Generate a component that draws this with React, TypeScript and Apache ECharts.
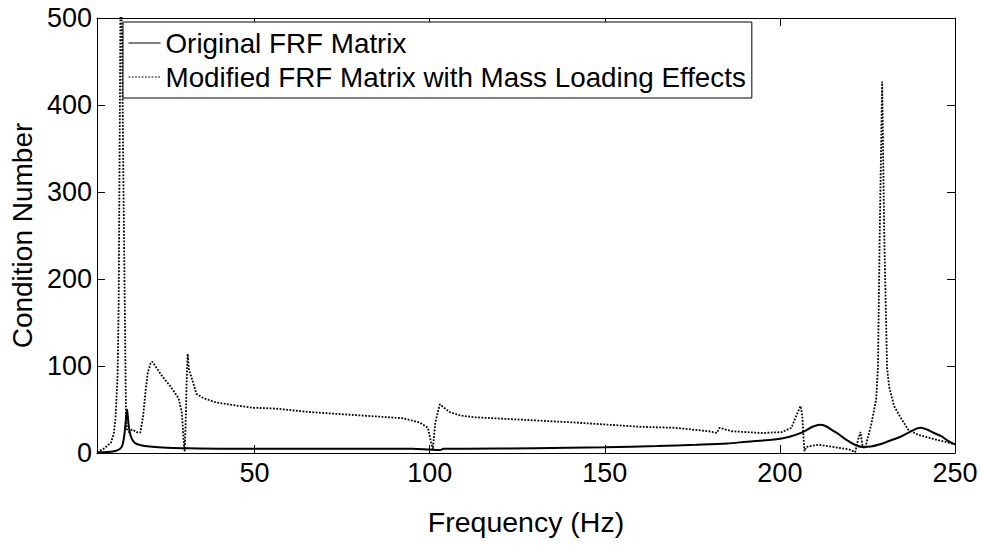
import React, { useEffect, useRef } from "react";
import * as echarts from "echarts";

// Original FRF matrix (solid)
const origFreq = [5, 7, 9, 10.5, 11.5, 12.2, 12.8, 13.3, 13.6, 13.9, 14.3, 15, 16, 17.5, 20, 25, 30, 40, 60, 80, 95, 100, 103, 104, 110, 130, 150, 165, 176, 185, 190.6, 197, 200.9, 203, 205.3, 207.5, 209.5, 211.5, 213, 215, 217, 219, 221.4, 223.5, 226, 228.6, 231, 234.6, 237, 239, 240.3, 242, 244, 246.2, 248, 250];
const origCond = [1, 1, 1.5, 2.5, 4.5, 8, 20, 40, 50, 38, 25, 16, 11, 9, 7.5, 6, 5.5, 5, 5, 5, 5, 4, 3.5, 5, 5, 5.5, 6.5, 8, 9.5, 11, 13, 15, 17, 19, 22, 26, 30.5, 32.5, 31, 26, 21, 15, 9.5, 7, 7.5, 10, 13.5, 19, 24, 28, 29, 27, 23, 19, 14, 10];

// Modified FRF matrix with mass loading effects (dotted)
const modFreq = [5, 7, 9, 9.8, 10.3, 10.9, 11.2, 11.45, 11.7, 11.95, 12.2, 12.5, 12.7, 13.0, 13.3, 13.6, 14.2, 15.0, 15.5, 16.4, 17.4, 18.2, 18.9, 19.5, 20.3, 20.8, 23.3, 26.1, 28.3, 29.2, 29.6, 29.85, 30.05, 30.3, 30.6, 30.9, 31.3, 32.0, 33.4, 35.4, 39.1, 44, 49.7, 56.2, 65.9, 75.3, 84.7, 92.3, 97.2, 99.5, 100.4, 100.9, 101.6, 102.9, 105.7, 108.8, 113.1, 122.8, 132.2, 141.6, 151.2, 160.6, 170, 179.7, 182, 182.8, 186.2, 194.8, 200.5, 203.3, 204.7, 205.9, 206.4, 206.7, 207.0, 207.5, 211, 215, 219.8, 221.5, 222.3, 223, 223.6, 224.3, 226.1, 227.5, 228, 228.5, 229.2, 229.8, 230.6, 231.2, 232.6, 234.6, 236.6, 239.4, 243, 246, 250];
const modCond = [1, 5, 12, 22, 40, 90, 170, 330, 500, 520, 470, 330, 260, 150, 40, 27, 24, 27, 26, 24, 23.5, 43, 72, 92, 103, 105, 90, 76, 63, 47, 25, 8, 2, 30, 80, 114, 95, 87, 68, 63, 58, 55, 52, 51, 47, 44.5, 42, 40, 35, 29, 12, 4, 35, 56, 47, 43, 41, 39, 37, 35, 32.5, 30, 29, 25, 23, 29, 25, 23, 24, 29, 43, 54, 43, 22, 2, 7, 9.5, 7, 4, 1, 15, 24, 8, 5, 33, 62, 98, 250, 427, 250, 98, 76, 54, 40, 27, 21, 17, 14, 10];

const xTicks = [50, 100, 150, 200, 250];
const yTicks = [0, 100, 200, 300, 400, 500];

const seriesNames = ["Original FRF Matrix", "Modified FRF Matrix with Mass Loading Effects"];

const FONT = "'Liberation Sans', Arial, Helvetica, sans-serif";

export default function App() {
  const ref = useRef<HTMLDivElement>(null);
  useEffect(() => {
    if (!ref.current) return;
    const chart = echarts.init(ref.current, undefined, { renderer: "svg" });
    const toPairs = (xs: number[], ys: number[]) => xs.map((x, i) => [x, ys[i]]);
    const axisLineStyle = { color: "#000", width: 1 };
    chart.setOption({
      animation: false,
      backgroundColor: "#fff",
      textStyle: { fontFamily: FONT, color: "#000" },
      grid: { left: 93, right: 27, top: 18, bottom: 93, containLabel: false },
      legend: {
        orient: "vertical",
        left: 123,
        top: 22,
        data: seriesNames,
        itemWidth: 32,
        itemHeight: 14,
        itemGap: 6,
        padding: [7, 6, 7, 5],
        borderColor: "#000",
        borderWidth: 1,
        backgroundColor: "#fff",
        itemStyle: { opacity: 0 },
        lineStyle: { width: 1 },
        textStyle: { fontFamily: FONT, fontSize: 27.8, color: "#000" },
      },
      xAxis: [
        {
          type: "value",
          min: 5,
          max: 250,
          position: "bottom",
          name: "Frequency (Hz)",
          nameLocation: "middle",
          nameGap: 54,
          nameTextStyle: { fontFamily: FONT, fontSize: 28.5, color: "#000" },
          axisLine: { show: true, onZero: false, lineStyle: axisLineStyle },
          axisTick: { show: true, inside: true, length: 8, customValues: xTicks, lineStyle: axisLineStyle },
          axisLabel: { show: true, customValues: xTicks, fontFamily: FONT, fontSize: 27, color: "#000", margin: 6 },
          splitLine: { show: false },
        },
        {
          type: "value",
          min: 5,
          max: 250,
          position: "top",
          axisLine: { show: true, onZero: false, lineStyle: axisLineStyle },
          axisTick: { show: true, inside: true, length: 8, customValues: xTicks, lineStyle: axisLineStyle },
          axisLabel: { show: false },
          splitLine: { show: false },
        },
      ],
      yAxis: [
        {
          type: "value",
          min: 0,
          max: 500,
          interval: 100,
          position: "left",
          name: "Condition Number",
          nameLocation: "middle",
          nameGap: 55,
          nameTextStyle: { fontFamily: FONT, fontSize: 28, color: "#000" },
          axisLine: { show: true, onZero: false, lineStyle: axisLineStyle },
          axisTick: { show: true, inside: true, length: 8, customValues: yTicks, lineStyle: axisLineStyle },
          axisLabel: { show: true, customValues: yTicks, fontFamily: FONT, fontSize: 27, color: "#000", margin: 5 },
          splitLine: { show: false },
        },
        {
          type: "value",
          min: 0,
          max: 500,
          interval: 100,
          position: "right",
          axisLine: { show: true, onZero: false, lineStyle: axisLineStyle },
          axisTick: { show: true, inside: true, length: 8, customValues: yTicks, lineStyle: axisLineStyle },
          axisLabel: { show: false },
          splitLine: { show: false },
        },
      ],
      series: [
        {
          name: seriesNames[0],
          type: "line",
          xAxisIndex: 0,
          yAxisIndex: 0,
          data: toPairs(origFreq, origCond),
          showSymbol: false,
          symbol: "none",
          smooth: 0.3,
          clip: true,
          itemStyle: { color: "#000" },
          lineStyle: { color: "#000", width: 2, type: "solid" },
          z: 3,
        },
        {
          name: seriesNames[1],
          type: "line",
          xAxisIndex: 0,
          yAxisIndex: 0,
          data: toPairs(modFreq, modCond),
          showSymbol: false,
          symbol: "none",
          smooth: false,
          clip: true,
          itemStyle: { color: "#000" },
          lineStyle: { color: "#000", width: 1.8, type: [1.8, 1.5] },
          z: 2,
        },
      ],
    });
    return () => chart.dispose();
  }, []);
  return <div ref={ref} style={{ width: 982, height: 546, position: "absolute", left: 0, top: 0, background: "#fff" }} />;
}
